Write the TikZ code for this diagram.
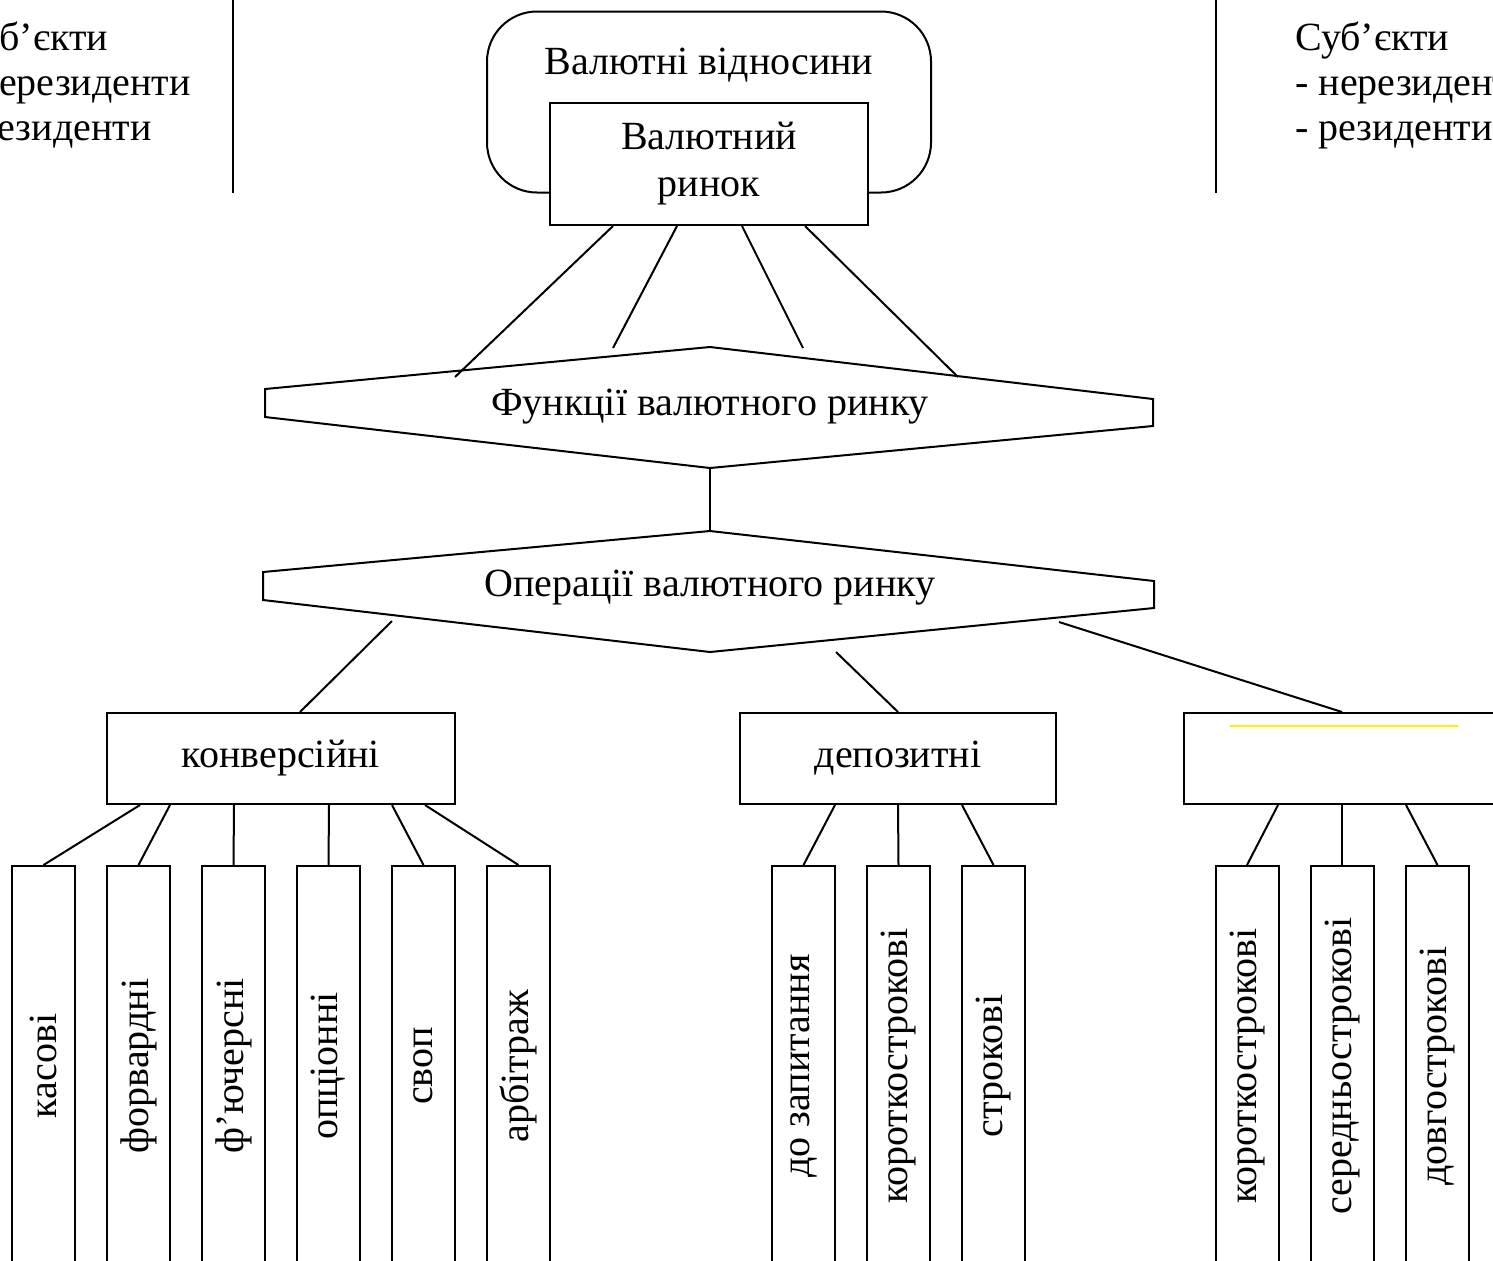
\documentclass[tikz,border=0pt]{standalone}
\usepackage{fontspec}
\setmainfont{Liberation Serif}
\usetikzlibrary{calc}

\begin{document}
\begin{tikzpicture}[x=0.5pt,y=-0.5pt]
    \tikzstyle{every node}=[font=\fontsize{20}{23.5}\selectfont]
    \tikzstyle{box}=[draw,line width=1pt,fill=white,inner sep=0pt]
    \tikzstyle{tallbox}=[draw,line width=1pt,rotate=90,minimum width=200pt,minimum height=31.5pt,inner sep=0pt]
    \tikzstyle{link}=[line width=1pt]
    \tikzstyle{subj}=[anchor=west,align=left,inner sep=0pt,font=\fontsize{20}{22.5}\selectfont]

    \useasboundingbox (0,0) rectangle (1493,1260);
    \clip (0,0) rectangle (1493,1260);

    % subjects on both sides
    \node[subj] (subj-left) at (-46,85) {Суб’єкти\\- нерезиденти\\- резиденти};
    \node[subj] (subj-right) at (1295,85) {Суб’єкти\\- нерезиденти\\- резиденти};
    \draw[link] (233,0) -- (233,193);
    \draw[link] (1216,0) -- (1216,193);

    % currency relations and market
    \node[box,rounded corners=25pt,minimum width=222pt,minimum height=90.5pt] (rel) at (709,102) {};
    \node (rel-text) at (709,65) {Валютні відносини};
    \node[box,align=center,minimum width=159pt,minimum height=61pt] (mkt) at (709,164) {Валютний\\ринок};

    % functions of the market
    \draw[link] (265,389) -- (710,347) -- (1153,399) -- (1153,426) -- (710,468) -- (265,417) -- cycle;
    \node (func) at (710,407) {Функції валютного ринку};
    \coordinate (func-s) at (710,468);
    \coordinate (f1) at (455,377);
    \coordinate (f2) at (613,348);
    \coordinate (f3) at (803,348);
    \coordinate (f4) at (958,377);
    \draw[link] ($(mkt.south)+(-96,0)$) -- (f1);
    \draw[link] ($(mkt.south)+(-32,0)$) -- (f2);
    \draw[link] ($(mkt.south)+(33,0)$) -- (f3);
    \draw[link] ($(mkt.south)+(96,0)$) -- (f4);

    % operations of the market
    \draw[link] (263,572) -- (710,531) -- (1154,581) -- (1154,608) -- (710,652) -- (263,600) -- cycle;
    \node (oper) at (710,588) {Операції валютного ринку};
    \coordinate (oper-n) at (710,531);
    \draw[link] (func-s) -- (oper-n);
    \coordinate (o1) at (392,621);
    \coordinate (o2) at (836,652);
    \coordinate (o3) at (1059,622);

    % kinds of operations
    \node[box,minimum width=174pt,minimum height=45.5pt] (conv) at (281,758.5) {конверсійні};
    \node[box,minimum width=158pt,minimum height=45.5pt] (dep) at (898,758.5) {депозитні};
    \node[box,minimum width=168pt,minimum height=45.5pt] (term) at (1352,758.5) {};
    \draw[yellow,line width=0.6pt] (1230,726) -- (1458,726);
    \draw[link] (o1) -- ($(conv.north)+(19,0)$);
    \draw[link] (o2) -- (dep.north);
    \draw[link] (o3) -- ($(term.north west)+(159,0)$);

    % conversion operations
    \node[tallbox] (kas) at (43.5,1066) {касові};
    \node[tallbox] (forw) at (138.5,1066) {форвардні};
    \node[tallbox] (fut) at (233.5,1066) {ф’ючерсні};
    \node[tallbox] (opt) at (328.5,1066) {опціонні};
    \node[tallbox] (swap) at (423.5,1066) {своп};
    \node[tallbox] (arb) at (518.5,1066) {арбітраж};
    \draw[link] ($(conv.south)+(-141,0)$) -- (kas.east);
    \draw[link] ($(conv.south)+(-111,0)$) -- (forw.east);
    \draw[link] ($(conv.south)+(-47,0)$) -- (fut.east);
    \draw[link] ($(conv.south)+(48,0)$) -- (opt.east);
    \draw[link] ($(conv.south)+(111,0)$) -- (swap.east);
    \draw[link] ($(conv.south)+(144,0)$) -- (arb.east);

    % deposit operations
    \node[tallbox] (demand) at (803.5,1066) {до запитання};
    \node[tallbox] (dshort) at (898.5,1066) {короткострокові};
    \node[tallbox] (dterm) at (993.5,1066) {строкові};
    \draw[link] ($(dep.south)+(-63,0)$) -- (demand.east);
    \draw[link] (dep.south) -- (dshort.east);
    \draw[link] ($(dep.south)+(64,0)$) -- (dterm.east);

    % by term
    \node[tallbox] (tshort) at (1247,1066) {короткострокові};
    \node[tallbox] (tmid) at (1342,1066) {середньострокові};
    \node[tallbox] (tlong) at (1437.5,1066) {довгострокові};
    \draw[link] ($(term.south west)+(95,0)$) -- (tshort.east);
    \draw[link] ($(term.south west)+(159,0)$) -- (tmid.east);
    \draw[link] ($(term.south west)+(223,0)$) -- (tlong.east);
\end{tikzpicture}
\end{document}
